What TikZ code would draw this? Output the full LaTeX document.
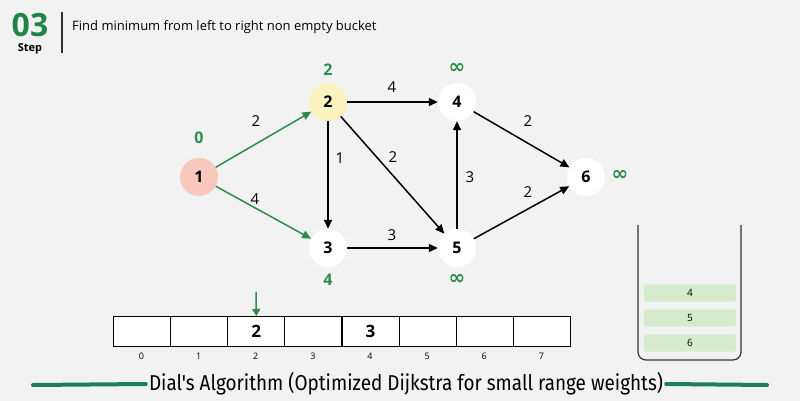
\documentclass[tikz,border=0pt]{standalone}
\usepackage{fontspec}
\setmainfont{Open Sans}
\newfontfamily\titlefont[FakeStretch=0.88]{Fira Sans}
\newfontfamily\symfont{DejaVu Sans}
\usetikzlibrary{arrows.meta}
\definecolor{bg}{HTML}{F2F2F2}
\definecolor{gr}{HTML}{2E8B4A}
\definecolor{hdr}{HTML}{1E8449}
\definecolor{teal}{HTML}{1A7F5A}
\definecolor{pinkn}{HTML}{F8C8BC}
\definecolor{yelln}{HTML}{FAF3C0}
\definecolor{stk}{HTML}{D5EBCC}
\tikzset{
  vert/.style={circle,minimum size=38pt,inner sep=0pt,fill=white,font=\bfseries\fontsize{16}{16}\selectfont},
  edge/.style={line width=1.5pt,-{Triangle[length=9pt,width=8pt]},black},
  gedge/.style={line width=1.5pt,-{Triangle[length=9pt,width=8pt]},gr},
  wlab/.style={font=\fontsize{15}{15}\selectfont},
  dlab/.style={text=gr,font=\bfseries\fontsize{16}{16}\selectfont},
  inflab/.style={text=gr,font=\symfont\bfseries\fontsize{20}{20}\selectfont},
  cell/.style={draw=black,line width=1pt,fill=white,minimum width=57.1pt,minimum height=30pt,inner sep=0pt,anchor=north west,font=\bfseries\fontsize{17}{17}\selectfont},
  idx/.style={font=\fontsize{9}{9}\selectfont},
  stkitem/.style={fill=stk,rounded corners=2pt,minimum width=92pt,minimum height=17pt,inner sep=0pt,font=\fontsize{10}{10}\selectfont},
}
\begin{document}
\begin{tikzpicture}[x=1pt,y=-1pt]
\fill[bg] (0,0) rectangle (800,401);
\useasboundingbox (0,0) rectangle (800,401);
% header
\node[text=hdr,font=\bfseries\fontsize{32}{32}\selectfont,inner sep=0pt,text depth=0pt,anchor=base] (num) at (30,37) {03};
\node[font=\bfseries\fontsize{11}{11}\selectfont,inner sep=0pt,anchor=base] (step) at (30,52) {Step};
\draw[line width=1.2pt,black!80] (62,12) -- (62,53);
\node[anchor=west,font=\fontsize{13}{13}\selectfont,inner sep=0pt] (ht) at (72,27) {Find minimum from left to right non empty bucket};
% vertices
\node[vert,fill=pinkn] (v1) at (199,177) {1};
\node[vert,fill=yelln] (v2) at (328,102) {2};
\node[vert] (v3) at (328,248) {3};
\node[vert] (v4) at (457,102) {4};
\node[vert] (v5) at (457,248) {5};
\node[vert] (v6) at (586,177) {6};
% distances
\node[dlab] (d1) at (199,138) {0};
\node[dlab] (d2) at (328,70) {2};
\node[dlab] (d3) at (328,280) {4};
\node[inflab] (d4) at (457,68) {∞};
\node[inflab] (d5) at (457,279) {∞};
\node[inflab] (d6) at (620,175) {∞};
% edges
\draw[gedge] (v1) -- (v2);
\draw[gedge] (v1) -- (v3);
\draw[edge] (v2) -- (v4);
\draw[edge] (v2) -- (v3);
\draw[edge] (v2) -- (v5);
\draw[edge] (v3) -- (v5);
\draw[edge] (v5) -- (v4);
\draw[edge] (v4) -- (v6);
\draw[edge] (v5) -- (v6);
\node[wlab] (w12) at (256,121) {2};
\node[wlab] (w13) at (255,199) {4};
\node[wlab] (w24) at (392,87) {4};
\node[wlab] (w23) at (340,158) {1};
\node[wlab] (w25) at (393,157) {2};
\node[wlab] (w35) at (392,235) {3};
\node[wlab] (w54) at (470,177) {3};
\node[wlab] (w46) at (528,121) {2};
\node[wlab] (w56) at (528,192) {2};
% buckets
\foreach \i/\t in {0/,1/,2/2,3/,4/3,5/,6/,7/} {
  \node[cell] (b\i) at (113+\i*57.125,316) {\t};
  \node[idx] (i\i) at (113+\i*57.125+28.56,356) {\i};
}
\coordinate (atop) at (256,292);
\draw[line width=1.5pt,gr,-{Triangle[length=7pt,width=8pt]}] (atop) -- (b2.north);
% stack
\draw[line width=1.2pt,black!80,rounded corners=8pt] (638,225) -- (638,360) -- (741,360) -- (741,225);
\node[stkitem] (s4) at (690,293) {4};
\node[stkitem] (s5) at (690,318) {5};
\node[stkitem] (s6) at (690,343) {6};
% title
\node[font=\titlefont\fontsize{21.5}{21.5}\selectfont,inner sep=0pt] (title) at (406,384) {Dial's Algorithm (Optimized Dijkstra for small range weights)};
\draw[teal,line width=4pt,line cap=round] (33,385) -- ([xshift=-3pt]title.west);
\draw[teal,line width=4pt,line cap=round] ([xshift=3pt]title.east) -- (767,385);
\end{tikzpicture}
\end{document}
